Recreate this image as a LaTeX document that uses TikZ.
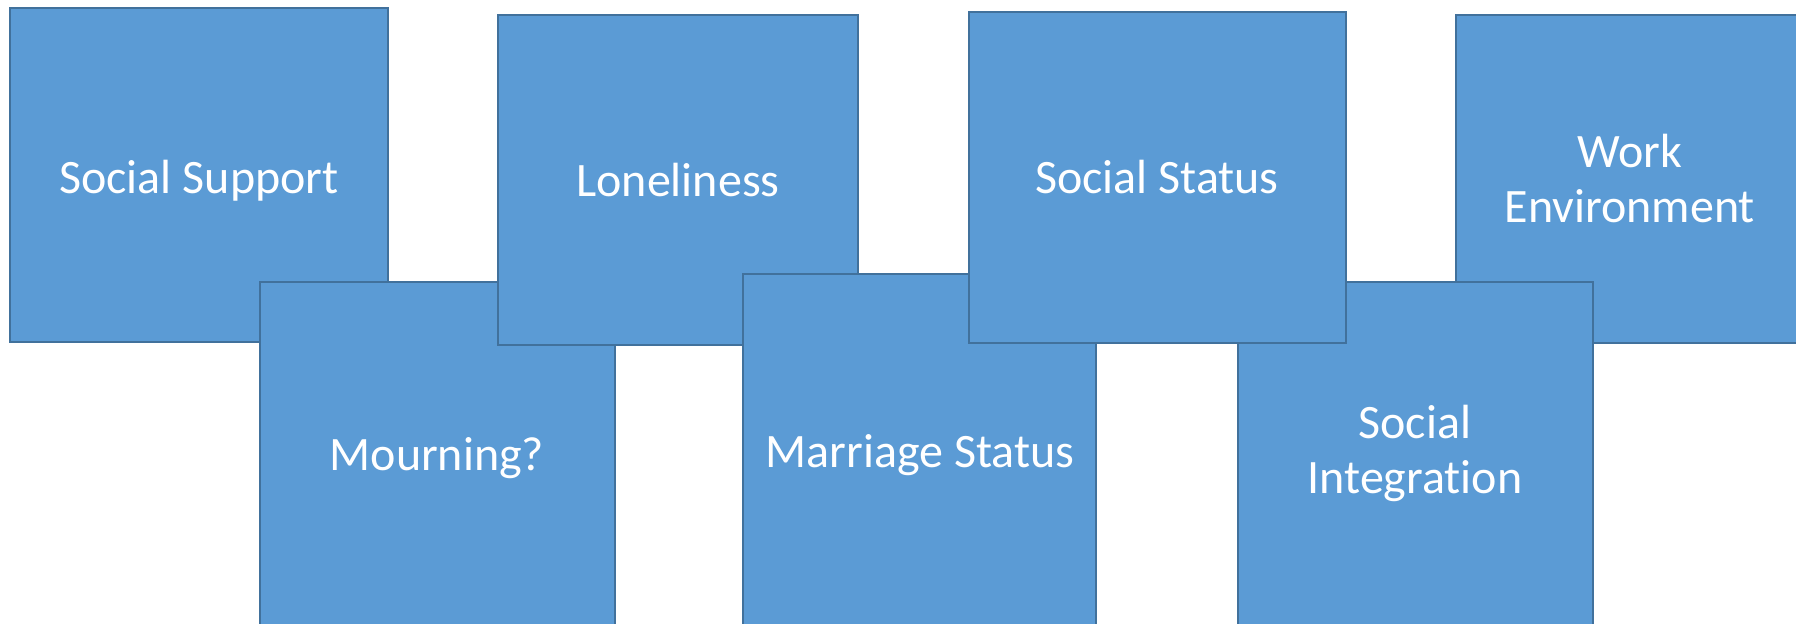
\documentclass[tikz,border=0pt]{standalone}
\usepackage{fontspec}
\setmainfont{Carlito}[Ligatures=NoCommon]
\definecolor{boxfill}{HTML}{5B9BD5}
\definecolor{boxline}{HTML}{41719C}
\begin{document}
\begin{tikzpicture}[x=0.5pt,y=-0.5pt,
  box/.style={draw=boxline, fill=boxfill, line width=1.25pt, rectangle, inner sep=0pt, outer sep=0pt},
  lbl/.style={text=white, font=\fontsize{24}{27.5}\selectfont, anchor=base, align=center, inner sep=0pt}]
\useasboundingbox (0,0) rectangle (1796,623);
\clip (0,0) rectangle (1796,623);
% boxes in stacking order
\node[box, minimum width=189pt,   minimum height=167pt]   (ss) at (199,175) {};
\node[box, minimum width=177.5pt, minimum height=174pt]   (mo) at (437.5,456) {};
\node[box, minimum width=180pt,   minimum height=165pt]   (lo) at (678,180) {};
\node[box, minimum width=176.5pt, minimum height=179pt]   (ma) at (919.5,453) {};
\node[box, minimum width=174pt,   minimum height=164pt]   (we) at (1630,179) {};
\node[box, minimum width=177.5pt, minimum height=174pt]   (si) at (1415.5,456) {};
\node[box, minimum width=188.5pt, minimum height=165.5pt] (st) at (1157.5,177.5) {};
% labels
\node[lbl] (ssT) at (199,193) {Social Support};
\node[lbl] (loT) at (678,196) {Loneliness};
\node[lbl] (stT) at (1157,193) {Social Status};
\node[lbl] (weT) at (1630,222) {Work\\Environment};
\node[lbl] (moT) at (437,470) {Mourning?};
\node[lbl] (maT) at (920,467) {Marriage Status};
\node[lbl] (siT) at (1415,493) {Social\\Integration};
\end{tikzpicture}
\end{document}
